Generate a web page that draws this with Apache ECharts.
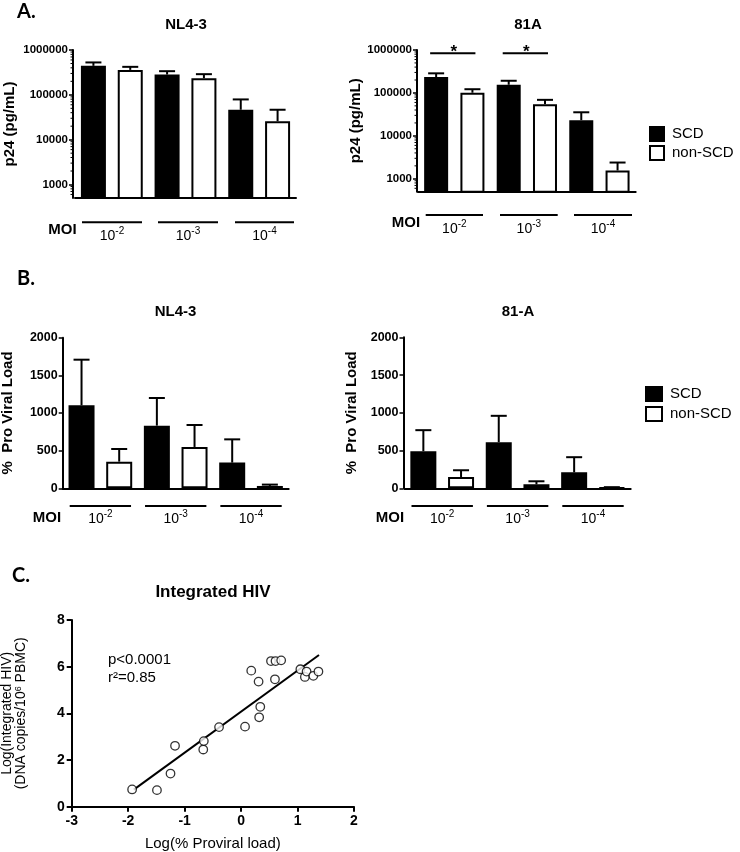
<!DOCTYPE html>
<html><head><meta charset="utf-8">
<script src="https://cdn.jsdelivr.net/npm/echarts@6/dist/echarts.min.js"></script>
<style>html,body{margin:0;padding:0;background:#fff}#c{width:740px;height:852px}</style>
</head><body><div id="c"></div>
<script>
// ---------- data ----------
const categories = ['1e-2 SCD','1e-2 non-SCD','1e-3 SCD','1e-3 non-SCD','1e-4 SCD','1e-4 non-SCD'];
const moiExponents = ['-2','-3','-4'];
const seriesNames = ['SCD','non-SCD'];
// Panel A: p24 (pg/mL), mean and upper error bar
const nl43P24Scd = [443000, 284000, 46500];
const nl43P24ScdUpper = [528000, 337000, 79000];
const nl43P24Non = [360000, 235000, 25800];
const nl43P24NonUpper = [421000, 289000, 46500];
const a81P24Scd = [234000, 155000, 23200];
const a81P24ScdUpper = [286000, 192000, 35400];
const a81P24Non = [101000, 54800, 1560];
const a81P24NonUpper = [122000, 69000, 2390];
const sigPairs = [[0, 1], [2, 3]];
const sigLevel = 840000;
// Panel B: % pro viral load
const nl43PvlScd = [1102, 832, 341];
const nl43PvlScdUpper = [1708, 1199, 650];
const nl43PvlNon = [354, 549, 31];
const nl43PvlNonUpper = [522, 841, 49];
const a81PvlScd = [491, 611, 212];
const a81PvlScdUpper = [770, 960, 412];
const a81PvlNon = [150, 53, 10];
const a81PvlNonUpper = [239, 93, 15];
// Panel C: Log(% proviral load) vs Log(integrated HIV)
const provX = [-1.93, -1.49, -1.25, -1.17, -0.67, -0.66, -0.39, 0.07, 0.18, 0.31, 0.32, 0.34, 0.53, 0.61, 0.71, 0.60, 1.05, 1.13, 1.16, 1.28, 1.37];
const intY  = [0.74, 0.71, 1.42, 2.61, 2.45, 2.81, 3.41, 3.43, 5.83, 5.36, 3.83, 4.28, 6.24, 6.24, 6.27, 5.46, 5.89, 5.56, 5.79, 5.61, 5.79];
const fitX = [-1.9, 1.38];
const fitY = [0.73, 6.5];
const minorLogTicks = [600,700,800,900,2000,3000,4000,5000,6000,7000,8000,9000,20000,30000,40000,50000,60000,70000,80000,90000,200000,300000,400000,500000,600000,700000,800000,900000];

// ---------- layout / style ----------
const FONT = '"Liberation Sans", Arial, Helvetica, sans-serif';
const G = [
  {left:75, top:50, width:221, height:148},
  {left:418, top:50, width:217.7, height:141.7},
  {left:62.7, top:337.7, width:226, height:150.6},
  {left:404.5, top:337.3, width:226.2, height:151},
  {left:71.7, top:620, width:282.3, height:186.7}
];

function slots(vals, which) {
  const out = categories.map(() => '-');
  vals.forEach((v, i) => { out[i * 2 + which] = v; });
  return out;
}
function barSeries(gi, scd, non, bw) {
  return [
    {type:'bar', name:seriesNames[0], xAxisIndex:gi, yAxisIndex:gi, data:slots(scd,0), barWidth:bw, barGap:'-100%',
     itemStyle:{color:'#000', borderColor:'#000', borderWidth:2}, silent:true},
    {type:'bar', name:seriesNames[1], xAxisIndex:gi, yAxisIndex:gi, data:slots(non,1), barWidth:bw, barGap:'-100%',
     itemStyle:{color:'#fff', borderColor:'#000', borderWidth:2}, silent:true}
  ];
}
function errSeries(gi, scd, scdUp, non, nonUp) {
  const data = [];
  for (let i = 0; i < scd.length; i++) {
    data.push([i * 2, scd[i], scdUp[i]]);
    data.push([i * 2 + 1, non[i], nonUp[i]]);
  }
  return {type:'custom', xAxisIndex:gi, yAxisIndex:gi, data, encode:{x:0, y:[1,2]}, silent:true, z:5, clip:false,
    renderItem(params, api) {
      const p0 = api.coord([api.value(0), api.value(1)]);
      const p1 = api.coord([api.value(0), api.value(2)]);
      const cw = 8;
      return {type:'group', children:[
        {type:'line', shape:{x1:p0[0], y1:p0[1], x2:p1[0], y2:p1[1]}, style:{stroke:'#000', lineWidth:2}},
        {type:'line', shape:{x1:p1[0]-cw, y1:p1[1], x2:p1[0]+cw, y2:p1[1]}, style:{stroke:'#000', lineWidth:2}}
      ]};
    }};
}
function minorSeries(gi) {
  return {type:'custom', xAxisIndex:gi, yAxisIndex:gi, data:minorLogTicks.map(v => [0, v]), encode:{x:0, y:1}, silent:true, clip:false,
    renderItem(params, api) {
      const y = api.coord([0, api.value(1)])[1];
      const x = params.coordSys.x - (gi === 0 ? 2 : 1);
      return {type:'line', shape:{x1:x-2.5, y1:y, x2:x, y2:y}, style:{stroke:'#000', lineWidth:1}};
    }};
}
function catX(gi) {
  return {type:'category', gridIndex:gi, data:categories, axisLine:{lineStyle:{color:'#000', width:2}, onZero:false},
    axisTick:{show:false}, axisLabel:{show:false}};
}
function yAxisCfg(gi, o) {
  return {gridIndex:gi, type:o.type, min:o.min, max:o.max, interval:o.interval, offset:o.offset||0,
    name:o.name, nameLocation:'middle', nameGap:o.nameGap, nameRotate:90,
    nameTextStyle:{fontFamily:FONT, fontWeight:'bold', fontSize:15, color:'#000'},
    axisLine:{show:true, onZero:false, lineStyle:{color:'#000', width:2}},
    axisTick:{show:true, length:4, lineStyle:{color:'#000', width:1.5}},
    axisLabel:{color:'#000', fontFamily:FONT, fontWeight:'bold', fontSize:o.fontSize, margin:5, showMinLabel:o.showMin,
      formatter:(v) => String(Math.round(v))},
    splitLine:{show:false}};
}

const grids = G.map(g => Object.assign({containLabel:false, outerBoundsMode:'none'}, g));
const xAxes = [catX(0), catX(1), catX(2), catX(3),
  {type:'value', gridIndex:4, min:-3, max:2, interval:1, name:'Log(% Proviral load)', nameLocation:'middle', nameGap:30,
   nameTextStyle:{fontFamily:FONT, fontSize:15, color:'#000'},
   axisLine:{onZero:false, lineStyle:{color:'#000', width:2}}, axisTick:{length:5, lineStyle:{color:'#000', width:2}},
   axisLabel:{color:'#000', fontFamily:FONT, fontWeight:'bold', fontSize:14, margin:7}, splitLine:{show:false}}];
const yAxes = [
  yAxisCfg(0, {type:'log', min:500, max:1000000, name:'p24 (pg/mL)', nameGap:56, fontSize:11.5, showMin:false, offset:2}),
  yAxisCfg(1, {type:'log', min:500, max:1000000, name:'p24 (pg/mL)', nameGap:54, fontSize:11.5, showMin:false, offset:1}),
  yAxisCfg(2, {type:'value', min:0, max:2000, interval:500, name:'%  Pro Viral Load', nameGap:47, fontSize:12.5, showMin:true, offset:0}),
  yAxisCfg(3, {type:'value', min:0, max:2000, interval:500, name:'%  Pro Viral Load', nameGap:44, fontSize:12.5, showMin:true, offset:1}),
  {type:'value', gridIndex:4, min:0, max:8, interval:2, nameLocation:'middle', nameRotate:90, nameGap:44,
   name:'{a|Log(Integrated HIV)}\n{a|(DNA copies/10}{s|6}{a| PBMC)}',
   nameTextStyle:{color:'#000', rich:{a:{fontFamily:FONT, fontSize:14, lineHeight:14, color:'#000'}, s:{fontFamily:FONT, fontSize:9, lineHeight:9, verticalAlign:'top', color:'#000'}}},
   axisLine:{onZero:false, lineStyle:{color:'#000', width:2}}, axisTick:{length:5, lineStyle:{color:'#000', width:2}},
   axisLabel:{color:'#000', fontFamily:FONT, fontWeight:'bold', fontSize:14, margin:7}, splitLine:{show:false}}
];

const series = [].concat(
  barSeries(0, nl43P24Scd, nl43P24Non, 25), errSeries(0, nl43P24Scd, nl43P24ScdUpper, nl43P24Non, nl43P24NonUpper), minorSeries(0),
  barSeries(1, a81P24Scd, a81P24Non, 24), errSeries(1, a81P24Scd, a81P24ScdUpper, a81P24Non, a81P24NonUpper), minorSeries(1),
  barSeries(2, nl43PvlScd, nl43PvlNon, 26), errSeries(2, nl43PvlScd, nl43PvlScdUpper, nl43PvlNon, nl43PvlNonUpper),
  barSeries(3, a81PvlScd, a81PvlNon, 26), errSeries(3, a81PvlScd, a81PvlScdUpper, a81PvlNon, a81PvlNonUpper),
  [{type:'custom', xAxisIndex:1, yAxisIndex:1, data:sigPairs.map(p => [p[0], p[1], sigLevel]), encode:{x:[0,1], y:2}, silent:true, clip:false,
    renderItem(params, api) {
      const p0 = api.coord([api.value(0), api.value(2)]);
      const p1 = api.coord([api.value(1), api.value(2)]);
      const x1 = p0[0] - 6, x2 = p1[0] + 3;
      return {type:'group', children:[
        {type:'line', shape:{x1, y1:p0[1], x2, y2:p0[1]}, style:{stroke:'#000', lineWidth:2}},
        {type:'text', x:(x1 + x2) / 2 + 1, y:p0[1] - 1, style:{text:'*', fontFamily:FONT, fontWeight:'bold', fontSize:17, fill:'#000', align:'center', verticalAlign:'middle'}}
      ]};
    }},
   {type:'line', xAxisIndex:4, yAxisIndex:4, data:fitX.map((x, i) => [x, fitY[i]]), symbol:'none', silent:true,
    lineStyle:{color:'#000', width:2}, z:2},
   {type:'scatter', xAxisIndex:4, yAxisIndex:4, data:provX.map((x, i) => [x, intY[i]]), symbol:'circle', symbolSize:8.5, silent:true,
    itemStyle:{color:'#fff', borderColor:'#000', borderWidth:1.3}, z:3}]
);

// ---------- annotations ----------
const graphic = [];
function txt(x, y, text, o) {
  graphic.push({type:'text', x, y, silent:true, style:Object.assign({text, fill:'#000', fontFamily:FONT, fontSize:15, align:'center', verticalAlign:'middle'}, o || {})});
}
function ln(x1, y1, x2, y2) {
  graphic.push({type:'line', silent:true, shape:{x1, y1, x2, y2}, style:{stroke:'#000', lineWidth:2}});
}
const LETTER = {fontFamily:'Lato, "Open Sans", sans-serif', fontWeight:'bold', fontSize:20, align:'left'};
txt(17, 12, 'A.', LETTER);
txt(17, 279, 'B.', LETTER);
txt(12, 576, 'C.', LETTER);
txt(186, 25, 'NL4-3', {fontWeight:'bold', fontSize:15});
txt(528, 25, '81A', {fontWeight:'bold', fontSize:15});
txt(175.5, 312, 'NL4-3', {fontWeight:'bold', fontSize:15});
txt(518, 312, '81-A', {fontWeight:'bold', fontSize:15});
txt(213, 592, 'Integrated HIV', {fontWeight:'bold', fontSize:17});
txt(108, 660, 'p<0.0001', {align:'left'});
txt(108, 678, 'r²=0.85', {align:'left'});

const moiRich = {b:{fontFamily:FONT, fontSize:14, lineHeight:20, fill:'#000'}, s:{fontFamily:FONT, fontSize:10, lineHeight:10, verticalAlign:'top', fill:'#000'}};
function moiRow(segs, lineY, labelY, moiX, moiY) {
  txt(moiX, moiY, 'MOI', {fontWeight:'bold', fontSize:15});
  segs.forEach((s, k) => {
    ln(s[0], lineY, s[1], lineY);
    txt((s[0] + s[1]) / 2, labelY, '{b|10}{s|' + moiExponents[k] + '}', {rich:moiRich});
  });
}
function groupSegs(g, inset) {
  const w = g.width / 3;
  return [0, 1, 2].map(k => [g.left + k * w + inset, g.left + (k + 1) * w - inset]);
}
moiRow([[82,142],[158,218],[235,294]], 222.3, 236, 62.5, 230);
moiRow([[425.7,483],[500,557.7],[574,632]], 215, 229, 406, 223.3);
moiRow(groupSegs(G[2], 7), 506, 519, 47, 518);
moiRow(groupSegs(G[3], 7), 506, 519, 390, 518);

const legendBase = {data:seriesNames, orient:'vertical', icon:'rect', selectedMode:false, padding:0,
  textStyle:{fontFamily:FONT, fontSize:15, color:'#000', padding:[0,0,0,3]}};
const legends = [
  Object.assign({}, legendBase, {left:649, top:126, itemWidth:14, itemHeight:14, itemGap:3}),
  Object.assign({}, legendBase, {left:645, top:386, itemWidth:16, itemHeight:14, itemGap:4})
];

const chart = echarts.init(document.getElementById('c'), null, {renderer:'canvas'});
chart.setOption({animation:false, backgroundColor:'#fff', grid:grids, xAxis:xAxes, yAxis:yAxes, series, legend:legends, graphic});
</script>
</body></html>
